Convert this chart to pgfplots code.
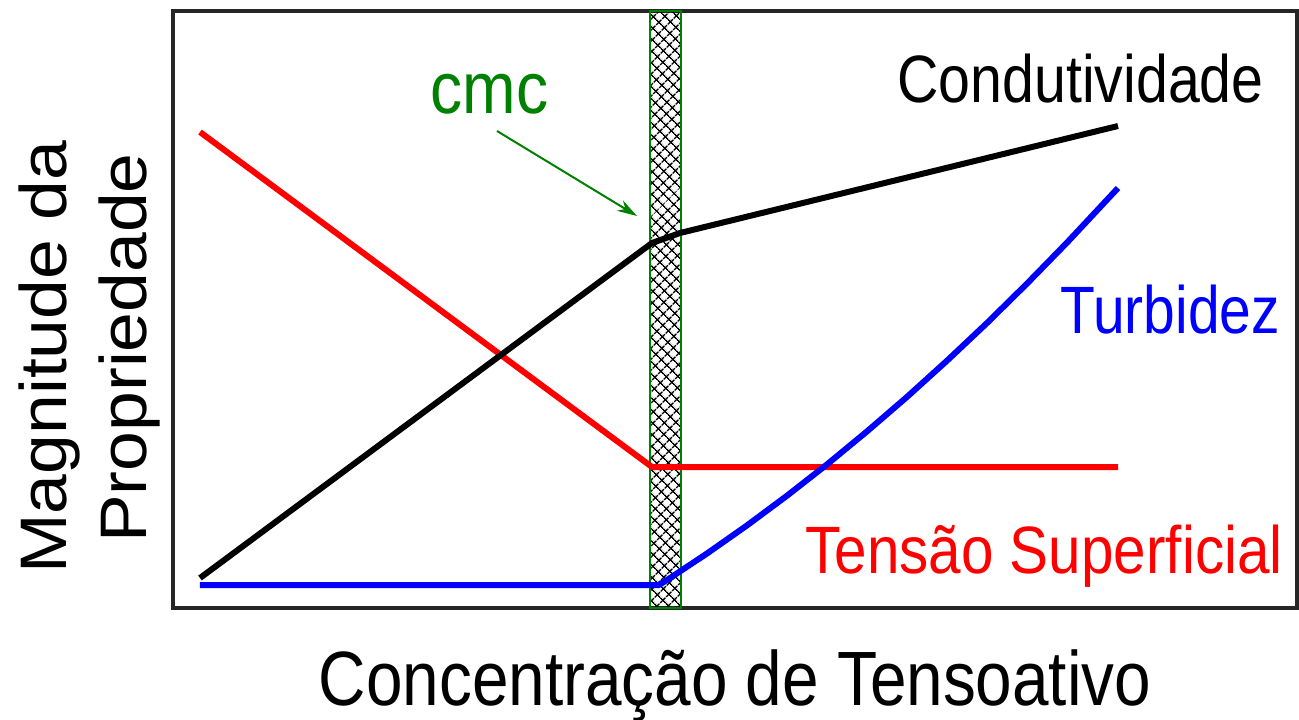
\documentclass[border=0pt]{standalone}
\usepackage{pgfplots}
\pgfplotsset{compat=1.18}
\usepackage{fontspec}
\setmainfont{Liberation Sans}
\usetikzlibrary{patterns.meta,arrows.meta}

\definecolor{cmcgreen}{RGB}{0,128,0}

% pixel units: x = px, y = 719 - py ; 1px = 0.5pt
\newcommand{\lab}[3]{\fontsize{#1}{#1}\selectfont\scalebox{#2}[1]{#3}}

\begin{document}
\begin{tikzpicture}
\begin{axis}[
    scale only axis,
    width=562pt, height=298.5pt,
    xmin=173, xmax=1297, ymin=111, ymax=708,
    xtick=\empty, ytick=\empty,
    axis line style={line width=1.6pt, black!85},
    clip=false,
]
    % cmc band
    \addplot[draw=none, fill=white, pattern={Hatch[angle=45,distance=4pt,line width=0.7pt]}]
        coordinates {(650,111) (650,708) (681,708) (681,111)} -- cycle;
    \addplot[draw=cmcgreen, line width=1pt]
        coordinates {(650,111) (650,708) (681,708) (681,111)} -- cycle;

    % Tensao superficial
    \addplot[red, line width=3pt, line join=round] coordinates {
        (200,587) (652,252) (1118,252)
    };
    % Condutividade
    \addplot[black, line width=3pt, line join=round] coordinates {
        (200,141) (652,476) (680,486) (1118,593)
    };
    % Turbidez
    \addplot[blue, line width=3pt, line join=round] coordinates {
        (200,134) (659,134) (667,139) (707,165.5) (747,193.6) (787,223.3)
        (827,254.6) (867,287.6) (907,322.1) (947,358.3) (987,396)
        (1027,435.4) (1067,476.4) (1118,531)
    };

    \draw[cmcgreen, line width=1pt, -{Stealth[length=10pt,width=6pt]}]
        (axis cs:497,588) -- (axis cs:637,503);

    \node[anchor=base west, inner sep=0pt] at (axis cs:897,617) {\lab{33.5}{0.855}{Condutividade}};
    \node[anchor=base west, inner sep=0pt, cmcgreen] at (axis cs:430,606) {\lab{36.5}{0.88}{cmc}};
    \node[anchor=base west, inner sep=0pt, blue] at (axis cs:1060,386) {\lab{33.5}{0.85}{Turbidez}};
    \node[anchor=base west, inner sep=0pt, red] at (axis cs:805,146) {\lab{33.5}{0.872}{Tensão Superficial}};

    \node[anchor=base, inner sep=0pt] at (axis cs:735,14) {\lab{38.5}{0.853}{Concentração de Tensoativo}};
    \node[anchor=base, inner sep=0pt, rotate=90] at (axis cs:67,362)
        {\fontsize{35.75}{35.75}\selectfont\scalebox{1}[0.92]{Magnitude da}};
    \node[anchor=base, inner sep=0pt, rotate=90] at (axis cs:147,371)
        {\fontsize{35.75}{35.75}\selectfont\scalebox{1}[0.92]{Propriedade}};

    \coordinate (bl) at (axis cs:0,0);
    \coordinate (tr) at (axis cs:1299,719);
\end{axis}
\pgfresetboundingbox
\path (bl) rectangle (tr);
\end{tikzpicture}
\end{document}
